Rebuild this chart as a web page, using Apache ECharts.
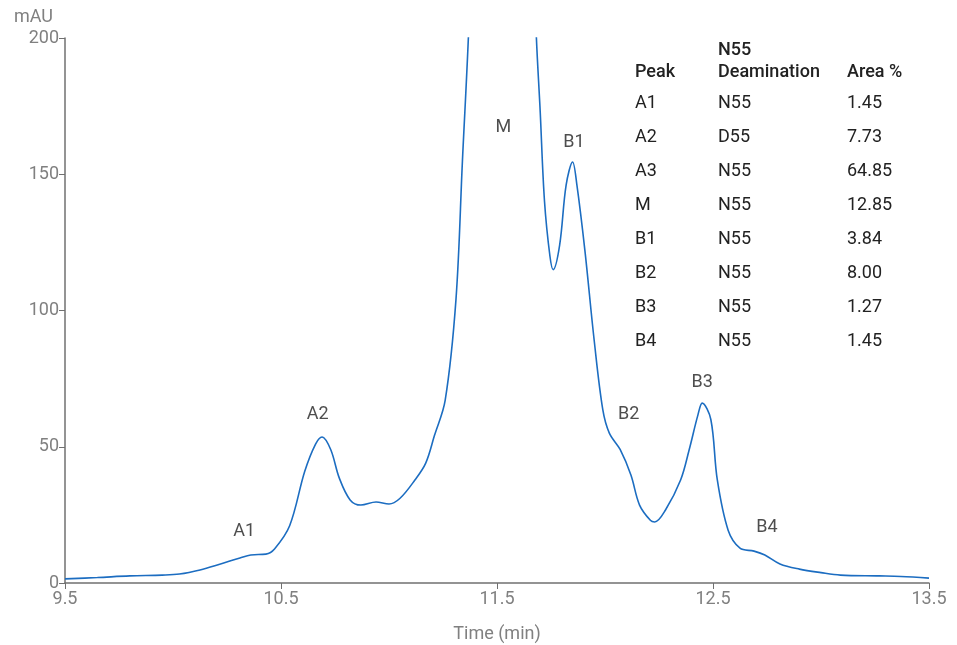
<!DOCTYPE html>
<html><head><meta charset="utf-8">
<script src="https://cdn.jsdelivr.net/npm/echarts@6/dist/echarts.min.js"></script>
<style>html,body{margin:0;padding:0;background:#fff}#c{width:957px;height:645px}</style>
</head><body><div id="c"></div>
<script>
// Chromatogram trace (time in min, absorbance in mAU)
var times = [9.5, 9.65, 9.8, 9.95, 10.03, 10.125, 10.22, 10.31, 10.36, 10.43, 10.47, 10.54, 10.61, 10.66, 10.69, 10.73, 10.77, 10.82, 10.87, 10.94, 11.0, 11.05, 11.12, 11.17, 11.21, 11.26, 11.31, 11.34, 11.37, 11.42, 11.47, 11.52, 11.58, 11.64, 11.68, 11.70, 11.72, 11.745, 11.76, 11.79, 11.82, 11.85, 11.87, 11.907, 11.95, 11.99, 12.02, 12.07, 12.12, 12.16, 12.21, 12.23, 12.28, 12.35, 12.39, 12.43, 12.45, 12.49, 12.52, 12.57, 12.625, 12.69, 12.74, 12.81, 12.9, 13.0, 13.09, 13.27, 13.37, 13.5];
var mAU   = [1.5, 2.0, 2.6, 2.9, 3.3, 4.8, 7.0, 9.2, 10.3, 10.6, 12.5, 21, 41, 51, 53.6, 49, 38.5, 30.5, 28.6, 29.7, 29, 31, 37.8, 44, 54, 67, 104, 155, 205, 320, 520, 580, 500, 320, 205, 173, 140, 120, 115, 124, 146, 154.5, 146, 122, 89, 63.5, 55, 49, 39.6, 28.6, 23, 22.4, 26.8, 37.8, 49, 61.6, 66, 60, 37.8, 19.4, 12.8, 11.7, 10.3, 7, 5.1, 3.8, 2.9, 2.6, 2.4, 1.8];

// Peak labels
var peakNames = ['A1', 'A2', 'M', 'B1', 'B2', 'B3', 'B4'];
var peakLabelTimes = [10.33, 10.67, 11.53, 11.856, 12.11, 12.45, 12.75];
var peakLabelValues = [19, 62, 167, 161.5, 62, 73.4, 20.5];

// Table
var tablePeak = ['A1', 'A2', 'A3', 'M', 'B1', 'B2', 'B3', 'B4'];
var tableDeam = ['N55', 'D55', 'N55', 'N55', 'N55', 'N55', 'N55', 'N55'];
var tableArea = ['1.45', '7.73', '64.85', '12.85', '3.84', '8.00', '1.27', '1.45'];

// X axis range (tick labels 9.5 ... 13.5 every 1 min)
var xMin = 9.5, xMax = 13.5;

var FONT = 'Roboto';
var FS = 18;
var chart = echarts.init(document.getElementById('c'), null, {renderer: 'canvas'});

var lineData = times.map(function (t, i) { return [t - xMin, mAU[i]]; });
var labelData = peakNames.map(function (n, i) { return {name: n, value: [peakLabelTimes[i] - xMin, peakLabelValues[i]]}; });

var graphics = [];
var colX = [635, 718, 847];
graphics.push({type: 'text', left: colX[1], top: 41, style: {text: 'N55', font: '500 ' + FS + 'px ' + FONT, fill: '#222'}});
['Peak', 'Deamination', 'Area %'].forEach(function (h, j) {
  graphics.push({type: 'text', left: colX[j], top: 63, style: {text: h, font: '500 ' + FS + 'px ' + FONT, fill: '#222'}});
});
tablePeak.forEach(function (p, i) {
  var y = 94 + i * 34;
  [p, tableDeam[i], tableArea[i]].forEach(function (s, j) {
    graphics.push({type: 'text', left: colX[j], top: y, style: {text: s, font: FS + 'px ' + FONT, fill: '#222'}});
  });
});

chart.setOption({
  animation: false,
  backgroundColor: '#fff',
  grid: {left: 65, right: 28, top: 38, bottom: 62, containLabel: false, outerBoundsMode: 'none'},
  xAxis: {
    type: 'value', min: 0, max: xMax - xMin, interval: 1,
    name: 'Time (min)', nameLocation: 'middle', nameGap: 42,
    nameTextStyle: {color: '#808080', fontSize: FS, fontFamily: FONT},
    axisLine: {lineStyle: {color: '#707070', width: 1.5}},
    axisTick: {show: true, length: 6, lineStyle: {color: '#707070'}},
    axisLabel: {color: '#808080', fontSize: FS, fontFamily: FONT, margin: 7,
      formatter: function (v) { return (v + xMin).toFixed(1); }},
    splitLine: {show: false}
  },
  yAxis: {
    type: 'value', min: 0, max: 200, interval: 50,
    name: 'mAU', nameLocation: 'end', nameGap: 12,
    nameTextStyle: {color: '#808080', fontSize: FS, fontFamily: FONT, align: 'right', padding: [0, 12, 0, 0]},
    axisLine: {show: true, lineStyle: {color: '#707070', width: 1.5}},
    axisTick: {show: true, length: 6, lineStyle: {color: '#707070'}},
    axisLabel: {color: '#808080', fontSize: FS, fontFamily: FONT, margin: 6},
    splitLine: {show: false}
  },
  series: [
    {type: 'line', data: lineData, smooth: 0.35, symbol: 'none', clip: true,
     lineStyle: {color: '#1c6dc1', width: 1.6}},
    {type: 'scatter', data: labelData, symbolSize: 1, itemStyle: {color: 'rgba(0,0,0,0)'},
     label: {show: true, position: 'inside', formatter: '{b}', color: '#222', fontSize: FS, fontFamily: FONT}}
  ],
  graphic: graphics
});
</script></body></html>
